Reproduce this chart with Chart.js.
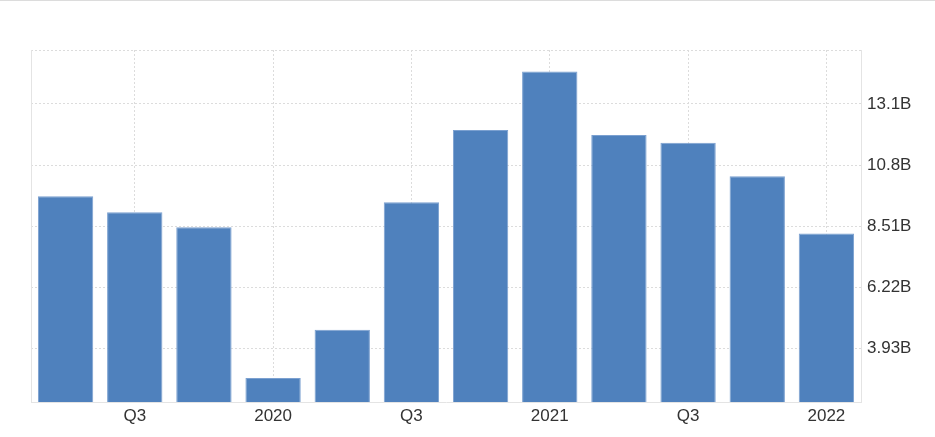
<!DOCTYPE html>
<html>
<head>
  <title>Quarterly values</title>
  <style>
    html, body {
      margin: 0;
      padding: 0;
      background: #ffffff;
    }
    #wrap {
      width: 935px;
      height: 436px;
      border-top: 1px solid #dcdcdc;
    }
  </style>
  <script src="https://cdn.jsdelivr.net/npm/chart.js"></script>
</head>
<body>
  <div id="wrap"><canvas id="chart" width="935" height="436"></canvas></div>

  <script>
    // data (values in billions)
    const categories = ['2019 Q2', '2019 Q3', '2019 Q4', '2020 Q1', '2020 Q2', '2020 Q3',
                        '2020 Q4', '2021 Q1', '2021 Q2', '2021 Q3', '2021 Q4', '2022 Q1'];
    const tickLabels = ['', 'Q3', '', '2020', '', 'Q3', '', '2021', '', 'Q3', '', '2022'];
    const values = [9.64, 9.04, 8.48, 2.84, 4.64, 9.41, 12.12, 14.31, 11.93, 11.64, 10.39, 8.24];
    const yTicks = [3.93, 6.22, 8.51, 10.80, 13.09];
    const yMin = 1.94;
    const yMax = 15.11;

    const gridColor = '#dcdcdc';
    const axisColor = '#e4e4e4';

    Chart.defaults.font.family = '"Liberation Sans", Arial, sans-serif';
    Chart.defaults.font.size = 17;
    Chart.defaults.color = '#333333';

    const ctx = document.getElementById('chart').getContext('2d');
    const chart = new Chart(ctx, {
      type: 'bar',
      data: {
        labels: categories,
        datasets: [
          {
            data: values,
            backgroundColor: '#4f81bd',
            borderColor: '#7ba0d0',
            borderWidth: 1,
            barPercentage: 0.8,
            categoryPercentage: 1.0
          }
        ]
      },
      options: {
        responsive: false,
        animation: false,
        layout: {
          padding: { top: 49, left: 31, right: 0, bottom: 0 }
        },
        plugins: {
          legend: { display: false },
          tooltip: { enabled: false }
        },
        scales: {
          x: {
            grid: {
              offset: false,
              drawTicks: false,
              color: function (c) {
                return tickLabels[c.index] ? gridColor : 'transparent';
              }
            },
            // in v4 border.dash styles the grid lines; the axis line stays solid
            border: { display: true, color: axisColor, dash: [2, 2] },
            ticks: {
              autoSkip: false,
              maxRotation: 0,
              padding: 4,
              callback: function (value, index) {
                return tickLabels[index];
              }
            },
            afterFit: function (scale) {
              scale.height = 35;
            }
          },
          y: {
            position: 'right',
            min: yMin,
            max: yMax,
            afterBuildTicks: function (scale) {
              scale.ticks = [yMin].concat(yTicks, [yMax]).map(function (v) { return { value: v }; });
            },
            grid: {
              drawTicks: false,
              color: function (c) {
                return c.tick && c.tick.value === yMin ? 'transparent' : gridColor;
              }
            },
            border: { display: true, color: axisColor, dash: [2, 2] },
            ticks: {
              padding: 6,
              callback: function (value) {
                return yTicks.indexOf(value) >= 0 ? value.toPrecision(3) + 'B' : '';
              }
            },
            afterFit: function (scale) {
              scale.width = 74;
            }
          },
          yl: {
            position: 'left',
            min: 0,
            max: 1,
            grid: { display: false },
            ticks: { display: false },
            border: { display: true, color: axisColor },
            afterFit: function (scale) {
              scale.width = 0;
            }
          }
        }
      }
    });
  </script>
</body>
</html>
